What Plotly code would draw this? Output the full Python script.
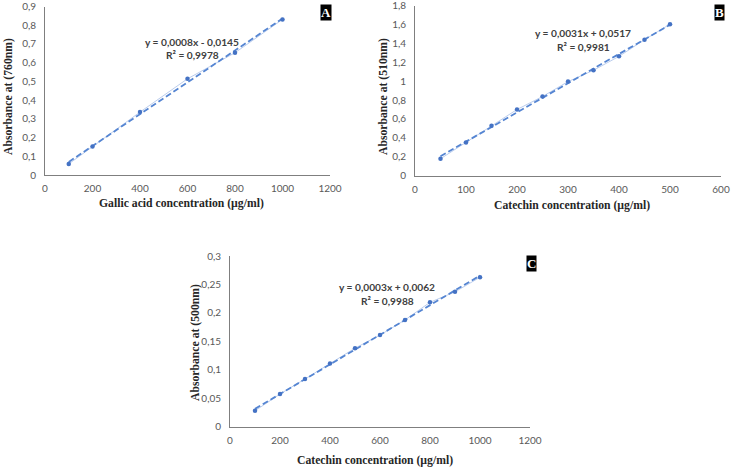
import numpy as np
import plotly.graph_objects as go

# ---- data ----
a_x = [100, 200, 400, 600, 800, 1000]
a_y = [0.059, 0.152, 0.336, 0.514, 0.653, 0.831]
b_x = [50, 100, 150, 200, 250, 300, 350, 400, 450, 500]
b_y = [0.179, 0.352, 0.527, 0.700, 0.837, 0.995, 1.115, 1.262, 1.438, 1.603]
c_x = [100, 200, 300, 400, 500, 600, 700, 800, 900, 1000]
c_y = [0.028, 0.0574, 0.0838, 0.111, 0.138, 0.161, 0.1875, 0.2186, 0.237, 0.2626]

a_yticks = [0, 0.1, 0.2, 0.3, 0.4, 0.5, 0.6, 0.7, 0.8, 0.9]
b_yticks = [0, 0.2, 0.4, 0.6, 0.8, 1.0, 1.2, 1.4, 1.6, 1.8]
c_yticks = [0, 0.05, 0.1, 0.15, 0.2, 0.25, 0.3]
a_xticks = [0, 200, 400, 600, 800, 1000, 1200]
b_xticks = [0, 100, 200, 300, 400, 500, 600]
c_xticks = [0, 200, 400, 600, 800, 1000, 1200]

a_eq = ["y = 0,0008x - 0,0145", "R² = 0,9978"]
b_eq = ["y = 0,0031x + 0,0517", "R² = 0,9981"]
c_eq = ["y = 0,0003x + 0,0062", "R² = 0,9988"]

a_xtitle = "Gallic acid concentration (µg/ml)"
a_ytitle = "Absorbance at (760nm)"
b_xtitle = "Catechin concentration (µg/ml)"
b_ytitle = "Absorbance at (510nm)"
c_xtitle = "Catechin concentration (µg/ml)"
c_ytitle = "Absorbance at (500nm)"

W, H = 733, 467
BLUE = "#4472C4"
DASH = "#5585D2"
LIGHT = "#A9C0E8"

fig = go.Figure()

panels = [
    dict(x=a_x, y=a_y, xa="x", ya="y"),
    dict(x=b_x, y=b_y, xa="x2", ya="y2"),
    dict(x=c_x, y=c_y, xa="x3", ya="y3"),
]
for p in panels:
    xs = np.array(p["x"], float)
    ys = np.array(p["y"], float)
    k, b = np.polyfit(xs, ys, 1)
    tx = np.array([xs.min(), xs.max()])
    fig.add_trace(go.Scatter(x=p["x"], y=p["y"], mode="lines",
                             line=dict(color=LIGHT, width=0.8),
                             xaxis=p["xa"], yaxis=p["ya"], showlegend=False, hoverinfo="skip"))
    fig.add_trace(go.Scatter(x=tx, y=k * tx + b, mode="lines",
                             line=dict(color=DASH, width=1.8, dash="6px,3px"),
                             xaxis=p["xa"], yaxis=p["ya"], showlegend=False, hoverinfo="skip"))
    fig.add_trace(go.Scatter(x=p["x"], y=p["y"], mode="markers",
                             marker=dict(color=BLUE, size=4.5),
                             xaxis=p["xa"], yaxis=p["ya"], showlegend=False))

def px(x):
    return x / W

def py(y):
    return 1 - y / H

def fmt(v):
    return ("%g" % v).replace(".", ",")

tickfont = dict(family="Lato", size=10, color="#595959")
axcommon = dict(showgrid=False, zeroline=False, showline=True, linecolor="#7f7f7f",
                linewidth=1, ticks="", tickfont=tickfont, fixedrange=True, automargin=False,
                tickmode="array", ticklabeloverflow="allow")
xcommon = dict(ticklabelstandoff=4, **axcommon)
ycommon = dict(ticklabelstandoff=6, **axcommon)

def ax(tv, **kw):
    return dict(tickvals=tv, ticktext=[fmt(t) for t in tv], **kw)

fig.update_layout(
    template="none",
    width=W, height=H, margin=dict(l=0, r=0, t=0, b=0, pad=0),
    paper_bgcolor="white", plot_bgcolor="white",
    xaxis=ax(a_xticks, domain=[px(45), px(330)], range=[0, 1200], anchor="y", **xcommon),
    yaxis=ax(a_yticks, domain=[py(175), py(6.5)], range=[0, 0.9], anchor="x", **ycommon),
    xaxis2=ax(b_xticks, domain=[px(415), px(721)], range=[0, 600], anchor="y2", **xcommon),
    yaxis2=ax(b_yticks, domain=[py(175.7), py(5.5)], range=[0, 1.8], anchor="x2", **ycommon),
    xaxis3=ax(c_xticks, domain=[px(230), px(530)], range=[0, 1200], anchor="y3", **xcommon),
    yaxis3=ax(c_yticks, domain=[py(426.7), py(256)], range=[0, 0.3], anchor="x3", **ycommon),
)

titlefont = dict(family="Liberation Serif", size=11.7, color="#262626")
eqfont = dict(family="Lato", size=10.2, color="#404040", weight="bold")
boxfont = dict(family="Liberation Serif", size=13, color="white", weight="bold")

ann = []
def add(text, x, y, font, angle=0, **kw):
    ann.append(dict(text=text, x=px(x), y=py(y), xref="paper", yref="paper",
                    showarrow=False, font=font, textangle=angle, xanchor="center",
                    yanchor="middle", **kw))

# axis titles
add("<b>" + a_xtitle + "</b>", 181, 204, titlefont)
add("<b>" + a_ytitle + "</b>", 8, 97, titlefont, angle=-90)
add("<b>" + b_xtitle + "</b>", 572, 205, titlefont)
add("<b>" + b_ytitle + "</b>", 383, 97, titlefont, angle=-90)
add("<b>" + c_xtitle + "</b>", 375, 460, titlefont)
add("<b>" + c_ytitle + "</b>", 195, 343, titlefont, angle=-90)

# equations
add(a_eq[0], 192, 42, eqfont); add(a_eq[1], 192, 55, eqfont)
add(b_eq[0], 583, 33, eqfont); add(b_eq[1], 583, 47, eqfont)
add(c_eq[0], 387, 287, eqfont); add(c_eq[1], 387, 301, eqfont)

# panel letters
add("A", 326, 12.5, boxfont, bgcolor="black", borderpad=0)
add("B", 719, 12.5, boxfont, bgcolor="black", borderpad=0)
add("C", 531.5, 263.5, boxfont, bgcolor="black", borderpad=0)

fig.update_layout(annotations=ann)
fig.write_html("out.html", config={"displayModeBar": False},
               post_script="document.body.style.margin='0';document.body.style.overflow='hidden';")
